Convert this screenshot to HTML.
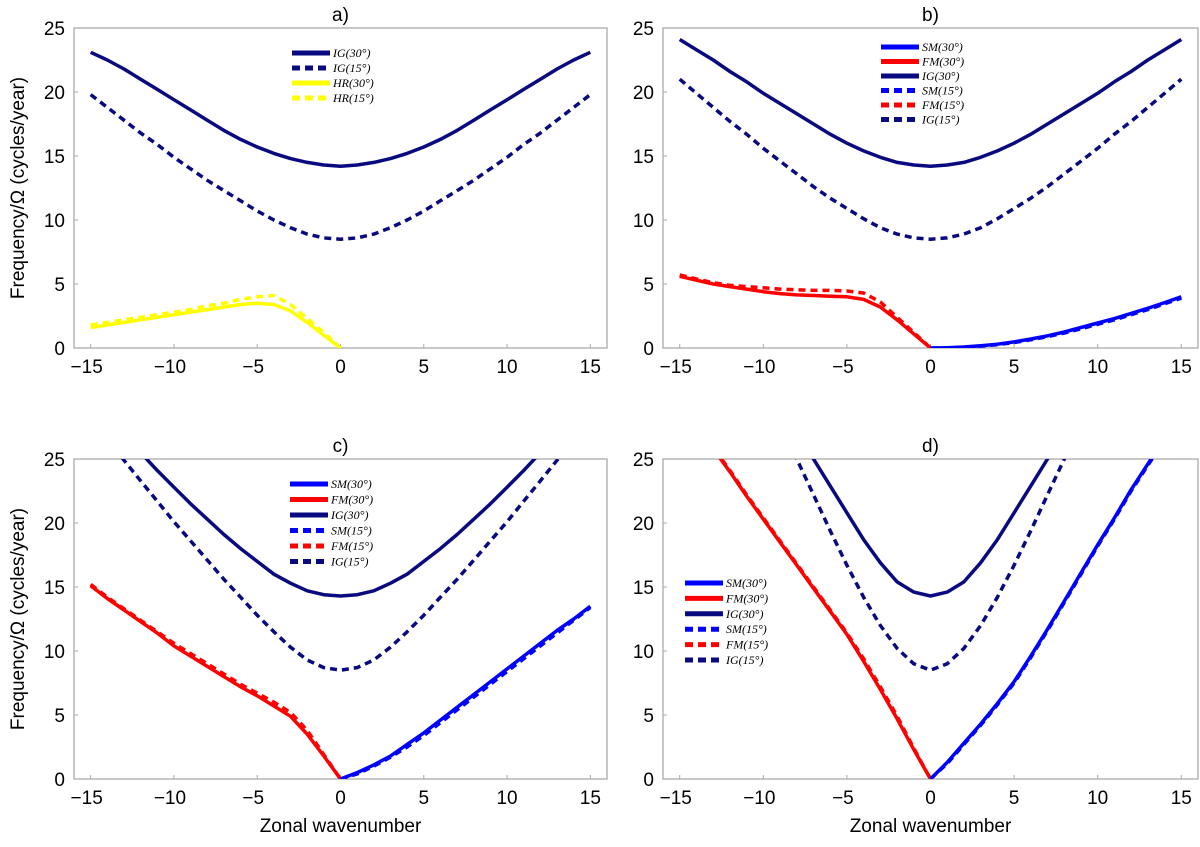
<!DOCTYPE html>
<html><head><meta charset="utf-8"><style>
body{margin:0;background:#fff;}
svg{display:block;font-family:"Liberation Sans",sans-serif;}
.leg{font-family:"Liberation Serif",serif;font-style:italic;font-size:12px;}
</style></head><body>
<svg id="fig" width="1200" height="847" viewBox="0 0 1200 847" xmlns="http://www.w3.org/2000/svg"></svg>
<script>
const kNeg=[-15,-14,-13,-12,-11,-10,-9,-8,-7,-6,-5,-4,-3,-2,-1,0];
const kPos=[0,1,2,3,4,5,6,7,8,9,10,11,12,13,14,15];
const kAll=[-15,-14,-13,-12,-11,-10,-9,-8,-7,-6,-5,-4,-3,-2,-1,0,1,2,3,4,5,6,7,8,9,10,11,12,13,14,15];
const xTicks=[-15,-10,-5,0,5,10,15];
const yTicks=[0,5,10,15,20,25];
// panel a
const aIG30=[23.1,22.5,21.8,21.0,20.2,19.4,18.6,17.8,17.0,16.3,15.7,15.2,14.8,14.5,14.3,14.2,14.3,14.5,14.8,15.2,15.7,16.3,17.0,17.8,18.6,19.4,20.2,21.0,21.8,22.5,23.1];
const aIG15=[19.8,18.8,17.8,16.8,15.9,14.9,14.0,13.1,12.3,11.5,10.7,10.0,9.4,8.9,8.6,8.5,8.6,8.9,9.4,10.0,10.7,11.5,12.3,13.1,14.0,14.9,15.9,16.8,17.8,18.8,19.8];
const aHR30=[1.6,1.8,2.0,2.2,2.4,2.6,2.8,3.0,3.2,3.4,3.5,3.4,2.9,2.0,1.0,0];
const aHR15=[1.8,2.0,2.2,2.4,2.6,2.8,3.0,3.3,3.5,3.8,4.0,4.1,3.4,2.3,1.2,0];
// panel b
const bIG30=[24.1,23.3,22.5,21.6,20.8,19.9,19.1,18.3,17.5,16.7,16.0,15.4,14.9,14.5,14.3,14.2,14.3,14.5,14.9,15.4,16.0,16.7,17.5,18.3,19.1,19.9,20.8,21.6,22.5,23.3,24.1];
const bIG15=[21.0,19.9,18.8,17.7,16.7,15.6,14.6,13.6,12.6,11.7,10.9,10.1,9.4,8.9,8.6,8.5,8.6,8.9,9.4,10.1,10.9,11.7,12.6,13.6,14.6,15.6,16.7,17.7,18.8,19.9,21.0];
const bFM30=[5.6,5.3,5.0,4.8,4.6,4.4,4.25,4.15,4.1,4.05,4.0,3.8,3.2,2.2,1.1,0];
const bFM15=[5.7,5.4,5.1,4.9,4.8,4.7,4.6,4.55,4.5,4.5,4.45,4.3,3.6,2.4,1.2,0];
const bSM30=[0,0.02,0.08,0.18,0.3,0.48,0.7,0.95,1.25,1.6,1.95,2.3,2.7,3.1,3.55,4.0];
const bSM15=[0,0.01,0.06,0.15,0.26,0.43,0.64,0.88,1.17,1.5,1.85,2.2,2.6,3.0,3.45,3.9];
// panel c
const cIG30=[28.2,26.9,25.5,24.1,22.8,21.5,20.3,19.1,18.0,17.0,16.0,15.3,14.7,14.4,14.3,14.4,14.7,15.3,16.0,17.0,18.0,19.1,20.3,21.5,22.8,24.1,25.5,26.9,28.2,29.6];
const cIG15=[28.0,26.5,24.9,23.3,21.7,20.1,18.6,17.1,15.6,14.2,12.8,11.5,10.3,9.3,8.7,8.5,8.7,9.3,10.3,11.5,12.8,14.2,15.6,17.1,18.6,20.1,21.7,23.3,24.9,26.5,28.0];
const cFM30=[15.1,14.1,13.2,12.3,11.4,10.4,9.6,8.8,8.0,7.2,6.5,5.7,4.9,3.5,1.8,0];
const cFM15=[15.2,14.2,13.3,12.4,11.5,10.6,9.8,9.0,8.2,7.4,6.7,6.0,5.2,3.8,1.9,0];
const cSM30=[0,0.5,1.1,1.8,2.7,3.6,4.6,5.6,6.6,7.6,8.6,9.6,10.6,11.6,12.5,13.5];
const cSM15=[0,0.4,1.0,1.7,2.5,3.4,4.4,5.4,6.4,7.4,8.4,9.4,10.4,11.4,12.4,13.4];
// panel d
const dIG30=[29.2,27.1,25.0,22.9,20.8,18.7,16.9,15.4,14.6,14.3,14.6,15.4,16.9,18.7,20.8,22.9,25.0,27.1,29.2];
const dIG15=[30.6,27.8,25.0,22.2,19.4,16.7,14.2,12.0,10.2,9.0,8.5,9.0,10.2,12.0,14.2,16.7,19.4,22.2,25.0,27.8,30.6];
const dFM30=[29.4,27.6,25.8,24.0,22.1,20.3,18.5,16.7,14.9,13.1,11.3,9.2,7.0,4.7,2.3,0];
const dFM15=[29.5,27.7,25.9,24.1,22.2,20.4,18.6,16.8,15.0,13.2,11.4,9.4,7.2,4.9,2.4,0];
const dSM30=[0,1.3,2.8,4.3,5.9,7.6,9.6,11.7,13.9,16.1,18.3,20.4,22.6,24.6,26.6,28.5];
const dSM15=[0,1.2,2.7,4.2,5.8,7.5,9.5,11.6,13.8,16.0,18.2,20.3,22.5,24.5,26.5,28.4];
const kC=[-14,-13,-12,-11,-10,-9,-8,-7,-6,-5,-4,-3,-2,-1,0,1,2,3,4,5,6,7,8,9,10,11,12,13,14,15];
const kDig30=[-9,-8,-7,-6,-5,-4,-3,-2,-1,0,1,2,3,4,5,6,7,8,9];
const kDig15=[-10,-9,-8,-7,-6,-5,-4,-3,-2,-1,0,1,2,3,4,5,6,7,8,9,10];

const NS="http://www.w3.org/2000/svg";
const svg=document.getElementById('fig');
function mk(tag,attrs,parent){const e=document.createElementNS(NS,tag);for(const k in attrs)e.setAttribute(k,attrs[k]);(parent||svg).appendChild(e);return e;}
const NAVY='#0a0a80',BLUE='#0000ff',RED='#ff0000',YEL='#ffff00';

function panel(id,L,R,T,B,title,showY,showX,series,legX,legY){
  const g=mk('g',{});
  
  
  const xs=v=>L+(v+16)/32*(R-L);
  const ys=v=>B-v/25*(B-T);
  const clip=mk('clipPath',{id:'clip'+id},g);
  mk('rect',{x:L,y:T,width:R-L,height:B-T},clip);
  const fr=mk('rect',{x:L,y:T,width:R-L,height:B-T,fill:'none',stroke:'#aaa','stroke-width':1.3},g);
  
  
  xTicks.forEach(t=>{
    mk('line',{x1:xs(t),x2:xs(t),y1:B,y2:B-4,stroke:'#aaa'},g);
    const tx=mk('text',{x:xs(t)-(t<0?4:0),y:B+25,'text-anchor':'middle','font-size':19,fill:'#000'},g);
    tx.textContent=(t<0?'\u2212'+(-t):String(t));
    
    
  });
  yTicks.forEach(t=>{
    mk('line',{x1:L,x2:L+4,y1:ys(t),y2:ys(t),stroke:'#aaa'},g);
    const tx=mk('text',{x:L-9,y:ys(t)+7,'text-anchor':'end','font-size':19,fill:'#000'},g);
    tx.textContent=String(t);
    
    
  });
  const tt=mk('text',{x:(L+R)/2,y:T-7,'text-anchor':'middle','font-size':19},g);
  tt.textContent=title;
  
  
  if(showY){
    const yl=mk('text',{x:0,y:0,'text-anchor':'middle','font-size':19,transform:'translate(24,'+((T+B)/2)+') rotate(-90)'},g);
    yl.textContent='Frequency/\u03a9 (cycles/year)';
    
    
  }
  if(showX){
    const xl=mk('text',{x:(L+R)/2,y:B+53,'text-anchor':'middle','font-size':19},g);
    xl.textContent='Zonal wavenumber';
    
    
  }
  const lg=mk('g',{'clip-path':'url(#clip'+id+')'},g);
  series.forEach(s=>{
    const d=s.x.map((v,i)=>(i?'L':'M')+xs(v).toFixed(1)+','+ys(s.y[i]).toFixed(1)).join(' ');
    const p=mk('path',{d:d,fill:'none',stroke:s.c,'stroke-width':3.5,'stroke-linejoin':'round','stroke-dasharray':s.dash?'7,5':'none'},lg);
    
    
  });
  const leg=mk('g',{},g);
  
  
  series.forEach((s,i)=>{
    const y=legY+i*s.step;
    mk('line',{x1:legX,x2:legX+38,y1:y,y2:y,stroke:s.c,'stroke-width':5,'stroke-dasharray':s.dash?'8,5':'none'},leg);
    const tx=mk('text',{x:legX+41,y:y+4,class:'leg'},leg);
    tx.textContent=s.n;
    
    
  });
}
const sa=[{n:'IG(30°)',x:kAll,y:aIG30,c:NAVY,dash:false,step:15},{n:'IG(15°)',x:kAll,y:aIG15,c:NAVY,dash:true,step:15},{n:'HR(30°)',x:kNeg,y:aHR30,c:YEL,dash:false,step:15},{n:'HR(15°)',x:kNeg,y:aHR15,c:YEL,dash:true,step:15}];
panel('a',74,607,28,348,'a)',true,false,sa,292,53);
function six(SM30,FM30,IG30,SM15,FM15,IG15,kI30,kI15,step){return[
 {n:'SM(30°)',x:kPos,y:SM30,c:BLUE,dash:false,step},{n:'FM(30°)',x:kNeg,y:FM30,c:RED,dash:false,step},{n:'IG(30°)',x:kI30,y:IG30,c:NAVY,dash:false,step},
 {n:'SM(15°)',x:kPos,y:SM15,c:BLUE,dash:true,step},{n:'FM(15°)',x:kNeg,y:FM15,c:RED,dash:true,step},{n:'IG(15°)',x:kI15,y:IG15,c:NAVY,dash:true,step}];}
panel('b',663,1198,28,348,'b)',false,false,six(bSM30,bFM30,bIG30,bSM15,bFM15,bIG15,kAll,kAll,14.5),881,47);
panel('c',74,607,459,779,'c)',true,true,six(cSM30,cFM30,cIG30,cSM15,cFM15,cIG15,kC,kAll,15.5),290,484);
panel('d',663,1198,459,779,'d)',false,true,six(dSM30,dFM30,dIG30,dSM15,dFM15,dIG15,kDig30,kDig15,15.4),685,583);
</script>
</body></html>
